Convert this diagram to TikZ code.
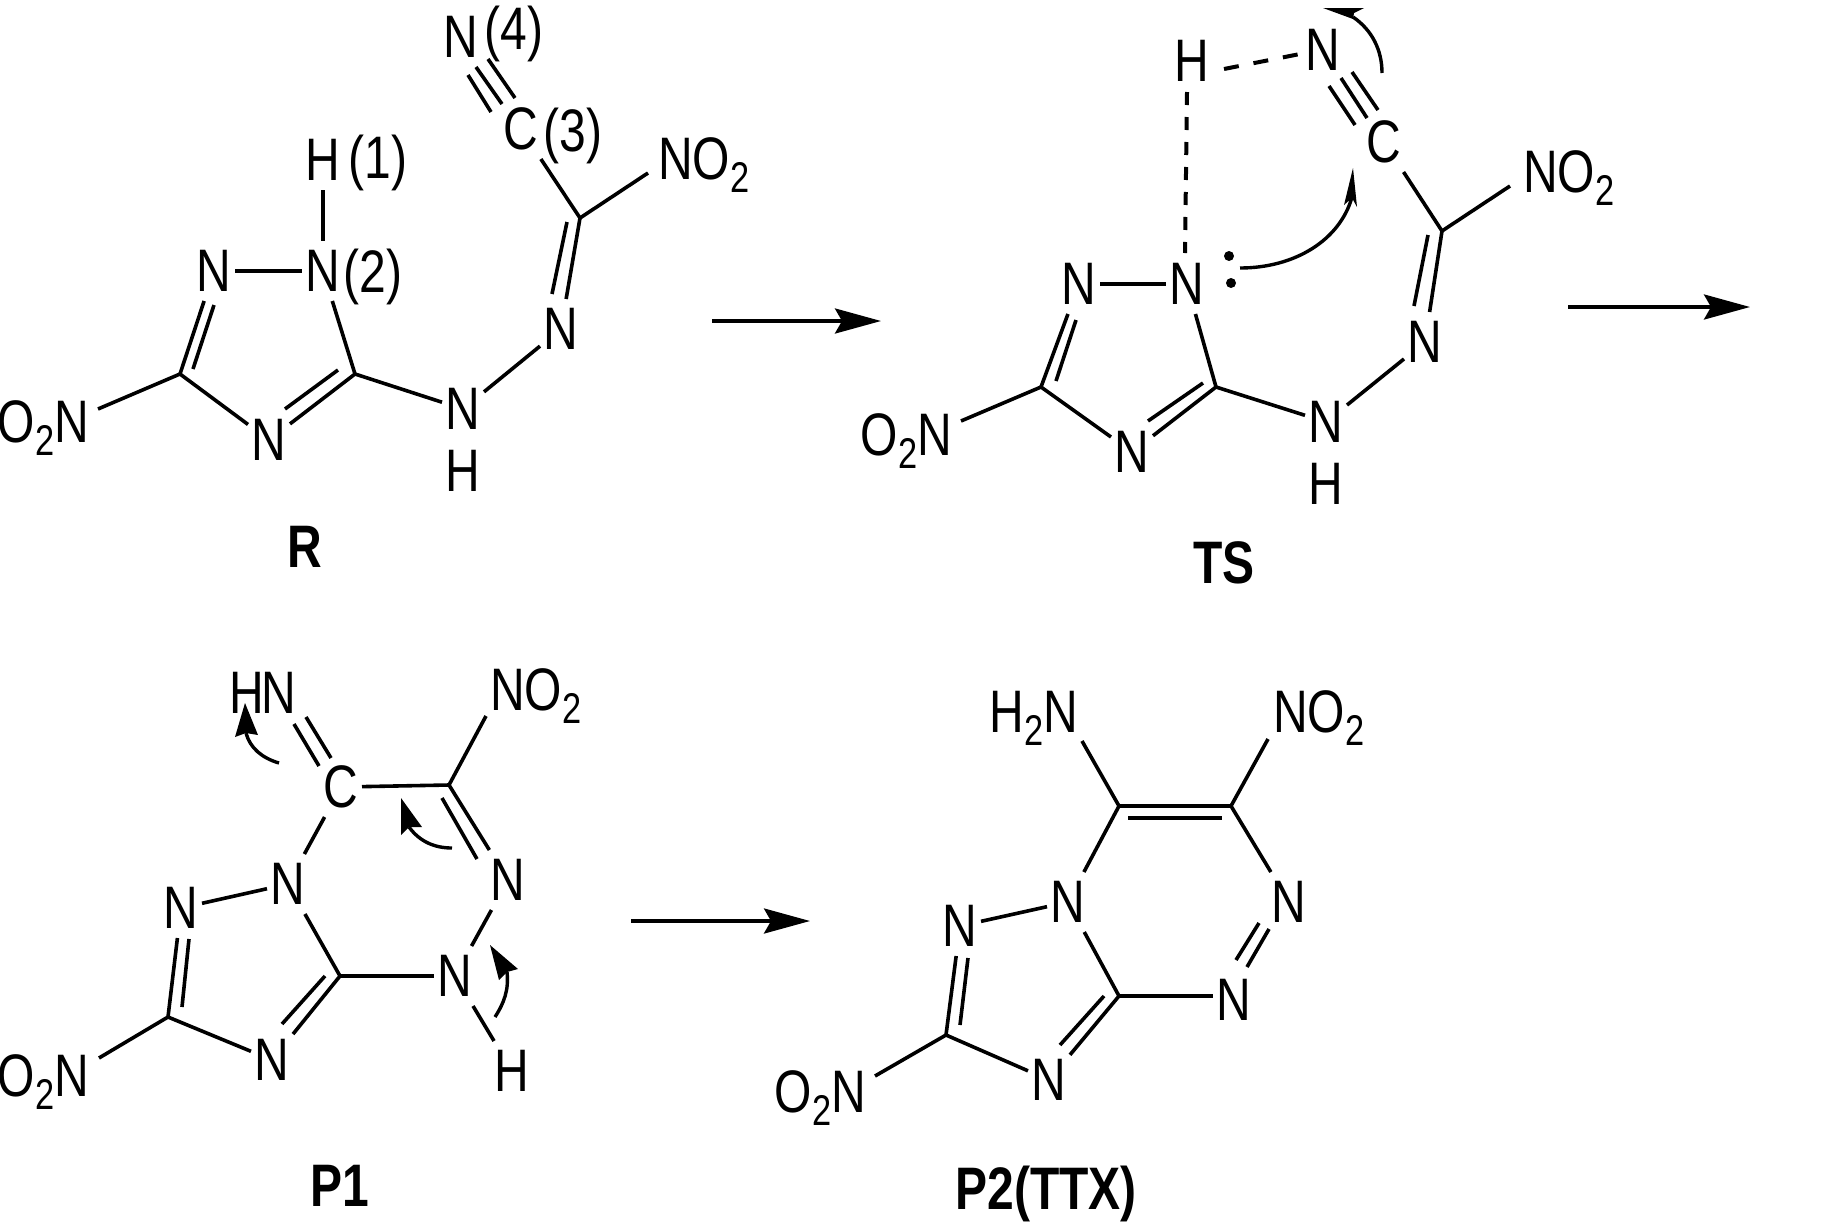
\documentclass[tikz,border=0pt]{standalone}
\usepackage{fontspec}
\setmainfont[FakeStretch=0.8]{Liberation Sans}
\usetikzlibrary{arrows.meta}
\newcommand\chemsub{\raisebox{-13pt}{\fontsize{43}{43}\selectfont 2}}
\newcommand\innerbond[5]{\coordinate (#1a) at (#2,#3); \coordinate (#1b) at (#4,#5); \draw[bond] (#1a) -- (#1b);}
\tikzset{
  every node/.style={inner sep=0pt,outer sep=0pt,font=\fontsize{60}{60}\selectfont,text=black},
  atom/.style={minimum width=42pt,minimum height=60pt},
  title/.style={font=\fontsize{60}{60}\selectfont\bfseries},
  bond/.style={draw=black,line width=3.6pt},
  hbond/.style={draw=black,line width=4pt,dash pattern=on 13pt off 12pt},
  hbondb/.style={draw=black,line width=4pt,dash pattern=on 15pt off 15pt},
  reaction/.style={draw=black,line width=3.6pt,-{Stealth[length=46pt,width=25pt,inset=7pt]}},
  curly/.style={draw=black,line width=3.4pt},
  curlyhead/.style={fill=black,draw=none},
}
\begin{document}
\begin{tikzpicture}[x=1pt,y=-1pt]
\useasboundingbox (0,0) rectangle (1833,1224);

% ---------- R ----------
\node[atom] (rN4) at (461,37) {N};
\node (rL4) at (514,34) {(4)};
\node[atom] (rC) at (521,129) {C};
\node (rL3) at (573,136) {(3)};
\node[atom] (rH) at (323,160) {H};
\node (rL1) at (378,163) {(1)};
\node[atom] (rN2) at (323,271) {N};
\node (rL2) at (373,277) {(2)};
\node[atom] (rNl) at (214,271) {N};
\node[atom] (rNb) at (269,440) {N};
\node[atom] (rNH) at (463,409) {N};
\node[atom] (rHb) at (463,471) {H};
\node[atom] (rNr) at (561,329) {N};
\node[anchor=base east] (rO) at (89,442) {O\chemsub N};
\node[anchor=base west] (rNO) at (658,179) {NO\chemsub};
\node[title] (rT) at (305,547) {R};
\coordinate (rv1) at (355,374);
\coordinate (rv2) at (180,374);
\coordinate (rv3) at (580,218);
\coordinate (rOe) at (98,409);
\coordinate (rNOe) at (648,173);
\draw[bond] (rH) -- (rN2);
\draw[bond] (rNl) -- (rN2);
\draw[bond] (rN2) -- (rv1);
\draw[bond] (rv1) -- (rNb);
\draw[bond] (rv2) -- (rNb);
\draw[bond] (rv2) -- (rNl);
\draw[bond] (rv2) -- (rOe);
\draw[bond] (rv1) -- (rNH);
\draw[bond] (rNH) -- (rNr);
\draw[bond] (rv3) -- (rNr);
\draw[bond] (rv3) -- (rC);
\draw[bond] (rv3) -- (rNOe);
\innerbond{ri1}{338}{370}{285}{409}
\innerbond{ri2}{193}{369}{214}{305}
\innerbond{ri3}{567}{222}{552}{294}
\innerbond{rt1}{515}{98}{488}{59}
\innerbond{rt2}{502}{104}{476}{67}
\innerbond{rt3}{491}{112}{468}{75}
\coordinate (a1s) at (712,321);
\coordinate (a1e) at (881,321);
\draw[reaction] (a1s) -- (a1e);

% ---------- TS ----------
\node[atom] (tH) at (1192,61) {H};
\node[atom] (tNt) at (1323,50) {N};
\node[atom] (tC) at (1384,142) {C};
\node[anchor=base west] (tNO) at (1523,192) {NO\chemsub};
\node[atom] (tN2) at (1187,284) {N};
\node[atom] (tNl) at (1079,284) {N};
\node[atom] (tNb) at (1132,452) {N};
\node[anchor=base east] (tO) at (952,455) {O\chemsub N};
\node[atom] (tNH) at (1326,422) {N};
\node[atom] (tHb) at (1326,484) {H};
\node[atom] (tNr) at (1425,342) {N};
\node[title] (tT) at (1224,563) {TS};
\coordinate (tv1) at (1216,387);
\coordinate (tv2) at (1041,387);
\coordinate (tv3) at (1442,231);
\coordinate (tOe) at (961,421);
\coordinate (tNOe) at (1510,186);
\draw[bond] (tNl) -- (tN2);
\draw[bond] (tN2) -- (tv1);
\draw[bond] (tv1) -- (tNb);
\draw[bond] (tv2) -- (tNb);
\draw[bond] (tv2) -- (tNl);
\draw[bond] (tv2) -- (tOe);
\draw[bond] (tv1) -- (tNH);
\draw[bond] (tNH) -- (tNr);
\draw[bond] (tv3) -- (tNr);
\draw[bond] (tv3) -- (tC);
\draw[bond] (tv3) -- (tNOe);
\innerbond{ti1}{1203}{383}{1148}{421}
\innerbond{ti2}{1056}{381}{1076}{320}
\innerbond{ti3}{1428}{235}{1414}{306}
\innerbond{tt1}{1378}{110}{1352}{72}
\innerbond{tt2}{1367}{118}{1341}{78}
\innerbond{tt3}{1355}{125}{1329}{86}
\coordinate (td1) at (1187,92);
\coordinate (td2) at (1185,253);
\draw[hbond] (td1) -- (td2);
\coordinate (td3) at (1224,69);
\coordinate (td4) at (1300,54);
\draw[hbondb] (td3) -- (td4);
\fill (1229,256) circle (5pt);
\fill (1231,283) circle (5pt);
\coordinate (tc1) at (1240,268);
\coordinate (tc2) at (1352,197);
\draw[curly] (tc1) .. controls (1295,268) and (1340,240) .. (tc2);
\fill[curlyhead] (1353,168) -- (1344,205) -- (1352,198) -- (1357,207) -- cycle;
\coordinate (tc3) at (1382,73);
\coordinate (tc4) at (1353,17);
\draw[curly] (tc3) .. controls (1382,50) and (1372,30) .. (tc4);
\fill[curlyhead] (1323,8) -- (1364,8) -- (1354,13) -- (1353,19) -- cycle;
\coordinate (a2s) at (1568,307);
\coordinate (a2e) at (1750,307);
\draw[reaction] (a2s) -- (a2e);

% ---------- P1 ----------
\node[anchor=base east] (pHN) at (296,713) {H\kern-3pt N};
\node[anchor=base west] (pNO) at (490,710) {NO\chemsub};
\node[atom] (pC) at (341,787) {C};
\node[atom] (pNm) at (288,884) {N};
\node[atom] (pNl) at (181,908) {N};
\node[atom] (pNb) at (272,1060) {N};
\node[anchor=base east] (pO) at (89,1096) {O\chemsub N};
\node[atom] (pNr) at (508,880) {N};
\node[atom] (pNH) at (455,976) {N};
\node[atom] (pH) at (512,1071) {H};
\node[title] (pT) at (340,1186) {P1};
\coordinate (pv4) at (449,785);
\coordinate (pv1) at (340,976);
\coordinate (pv2) at (168,1017);
\coordinate (pOe) at (99,1058);
\coordinate (pNOe) at (486,716);
\innerbond{pc1}{331}{758}{306}{717}
\innerbond{pc2}{319}{766}{294}{724}
\draw[bond] (pC) -- (pv4);
\draw[bond] (pv4) -- (pNOe);
\draw[bond] (pv4) -- (pNr);
\innerbond{pi1}{442}{798}{477}{859}
\draw[bond] (pC) -- (pNm);
\draw[bond] (pNm) -- (pNl);
\draw[bond] (pNm) -- (pv1);
\draw[bond] (pv1) -- (pNb);
\innerbond{pi2}{325}{976}{282}{1024}
\draw[bond] (pv2) -- (pNb);
\draw[bond] (pv2) -- (pNl);
\innerbond{pi3}{189}{939}{182}{1007}
\draw[bond] (pv2) -- (pOe);
\draw[bond] (pv1) -- (pNH);
\draw[bond] (pNr) -- (pNH);
\draw[bond] (pNH) -- (pH);
\coordinate (pa1) at (279,763);
\coordinate (pa2) at (246,733);
\draw[curly] (pa1) .. controls (262,758) and (250,748) .. (pa2);
\fill[curlyhead] (245,703) -- (235,737) -- (246,733) -- (258,735) -- cycle;
\coordinate (pb1) at (452,848);
\coordinate (pb2) at (409,827);
\draw[curly] (pb1) .. controls (435,848) and (420,842) .. (pb2);
\fill[curlyhead] (401,798) -- (401,835) -- (409,827) -- (422,827) -- cycle;
\coordinate (pe1) at (495,1017);
\coordinate (pe2) at (507,972);
\draw[curly] (pe1) .. controls (504,1003) and (509,990) .. (pe2);
\fill[curlyhead] (490,945) -- (499,980) -- (507,972) -- (518,969) -- cycle;
\coordinate (a3s) at (631,921);
\coordinate (a3e) at (810,921);
\draw[reaction] (a3s) -- (a3e);

% ---------- P2 ----------
\node[anchor=base east] (qHN) at (1078,732) {H\chemsub N};
\node[anchor=base west] (qNO) at (1273,732) {NO\chemsub};
\node[atom] (qNm) at (1068,902) {N};
\node[atom] (qNl) at (960,926) {N};
\node[atom] (qNr) at (1289,902) {N};
\node[atom] (qNo) at (1234,1000) {N};
\node[atom] (qNb) at (1049,1080) {N};
\node[anchor=base east] (qO) at (866,1112) {O\chemsub N};
\node[title] (qT) at (1046,1194) {P2(TTX)};
\coordinate (qv5) at (1119,806);
\coordinate (qv6) at (1231,806);
\coordinate (qv1) at (1119,996);
\coordinate (qv2) at (946,1035);
\coordinate (qHNe) at (1082,741);
\coordinate (qNOe) at (1268,739);
\coordinate (qOe) at (875,1076);
\draw[bond] (qv5) -- (qv6);
\innerbond{qi1}{1128}{818}{1222}{818}
\draw[bond] (qv5) -- (qHNe);
\draw[bond] (qv6) -- (qNOe);
\draw[bond] (qv5) -- (qNm);
\draw[bond] (qv6) -- (qNr);
\innerbond{qd1}{1269}{929}{1247}{967}
\innerbond{qd2}{1259}{923}{1236}{960}
\draw[bond] (qv1) -- (qNo.west |- qv1);
\draw[bond] (qNm) -- (qNl);
\draw[bond] (qNm) -- (qv1);
\draw[bond] (qv1) -- (qNb);
\innerbond{qi2}{1104}{996}{1060}{1045}
\draw[bond] (qv2) -- (qNb);
\draw[bond] (qv2) -- (qNl);
\innerbond{qi3}{968}{958}{960}{1025}
\draw[bond] (qv2) -- (qOe);
\end{tikzpicture}
\end{document}
